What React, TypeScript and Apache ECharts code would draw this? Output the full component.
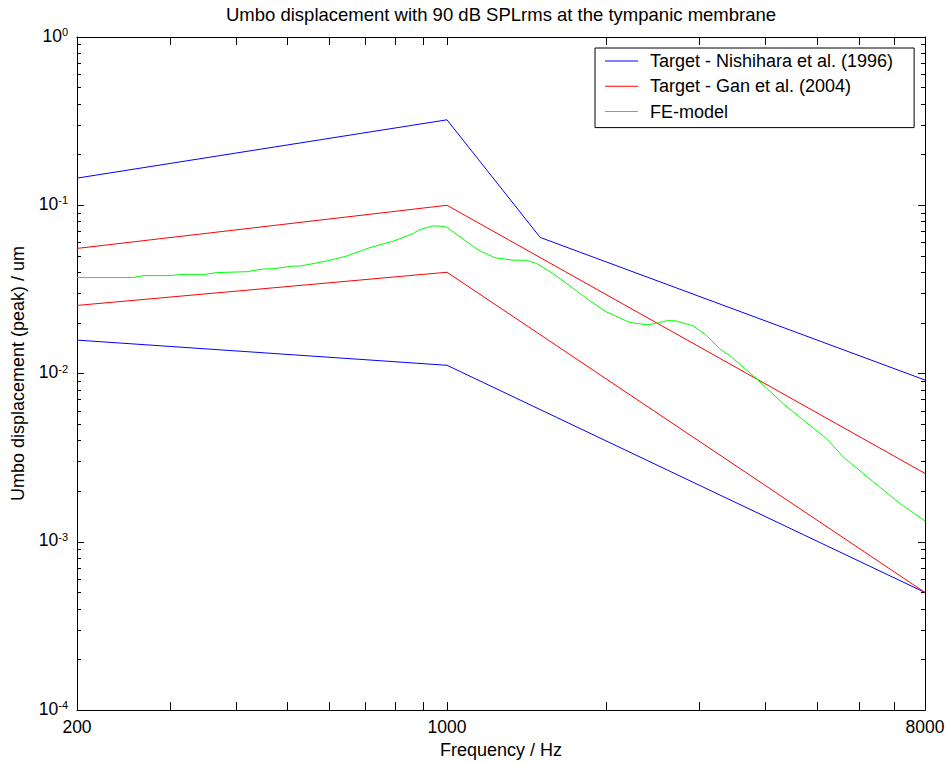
import React, { useEffect, useRef } from "react";
import * as echarts from "echarts";

// ---- data (frequency in Hz, displacement in um) ----
const nishiharaUpperFreq = [200, 1000, 1500, 8000];
const nishiharaUpperVal = [0.145, 0.322, 0.0644, 0.00915];
const nishiharaLowerFreq = [200, 1000, 8000];
const nishiharaLowerVal = [0.0158, 0.0112, 0.0005];
const ganUpperFreq = [200, 1000, 8000];
const ganUpperVal = [0.0554, 0.1, 0.00255];
const ganLowerFreq = [200, 1000, 8000];
const ganLowerVal = [0.0254, 0.04, 0.0005];
const feFreq = [
  200, 255, 267, 300, 313, 346, 367, 418, 450, 470, 512, 528, 601, 646, 715, 792,
  864, 889, 942, 970, 999, 1146, 1232, 1335, 1415, 1478, 1588, 1708, 1863, 2004,
  2218, 2384, 2490, 2602, 2697, 2920, 3095, 3280, 3426, 3820, 4320, 5218, 5608,
  6390, 7175, 8000,
];
const feVal = [
  0.0372, 0.0372, 0.0382, 0.0382, 0.0387, 0.0387, 0.0398, 0.0403, 0.0418, 0.042,
  0.0435, 0.0435, 0.0471, 0.0499, 0.056, 0.0612, 0.068, 0.0718, 0.0755, 0.0751,
  0.0741, 0.0542, 0.0488, 0.0472, 0.0471, 0.045, 0.0392, 0.0331, 0.027, 0.0232,
  0.0201, 0.0195, 0.0199, 0.0206, 0.0206, 0.0192, 0.0168, 0.01397, 0.01275,
  0.0095, 0.0066, 0.00409, 0.00319, 0.00227, 0.00169, 0.00133,
];

// ---- axis ticks / labels ----
const xLabelFreqs = [200, 1000, 8000];
const xTickFreqs = [
  200, 300, 400, 500, 600, 700, 800, 900, 1000, 2000, 3000, 4000, 5000, 6000, 7000, 8000,
];
const yMajorExps = [-4, -3, -2, -1, 0];
const yMinorMantissas = [2, 3, 4, 5, 6, 7, 8, 9];

const NAME_NISHI = "Target - Nishihara et al. (1996)";
const NAME_GAN = "Target - Gan et al. (2004)";
const NAME_FE = "FE-model";
const TITLE = "Umbo displacement with 90 dB SPLrms at the tympanic membrane";

const FONT = "'Liberation Sans', Arial, Helvetica, sans-serif";

const toPts = (f: number[], v: number[]) =>
  f.map((x, i) => [Math.log10(x), Math.log10(v[i])]);

export default function App() {
  const ref = useRef<HTMLDivElement>(null);

  useEffect(() => {
    document.body.style.margin = "0";
    if (!ref.current) return;
    const chart = echarts.init(ref.current, undefined, { renderer: "svg" });

    const xMin = Math.log10(200);
    const xMax = Math.log10(8000);
    const yMinor: number[] = [];
    yMajorExps.slice(0, -1).forEach((e) =>
      yMinorMantissas.forEach((m) => yMinor.push(e + Math.log10(m)))
    );

    const lineSeries = (name: string, f: number[], v: number[], color: string) => ({
      type: "line",
      name,
      data: toPts(f, v),
      showSymbol: false,
      symbol: "none",
      color,
      lineStyle: { color, width: 1 },
      xAxisIndex: 0,
      yAxisIndex: 0,
      z: 3,
    });

    const makeXTick = () => ({
      show: true,
      inside: true,
      length: 8,
      customValues: xTickFreqs.map((f) => Math.log10(f)),
      lineStyle: { color: "#000", width: 1 },
    });

    const makeYTick = (vals: number[], len: number) => ({
      show: true,
      inside: true,
      length: len,
      customValues: vals.slice(),
      lineStyle: { color: "#000", width: 1 },
    });

    const yAxisCommon = () => ({
      type: "value",
      min: -4,
      max: 0,
      splitLine: { show: false },
    });

    chart.setOption({
      animation: false,
      backgroundColor: "#fff",
      textStyle: { fontFamily: FONT },
      graphic: [
        {
          type: "text",
          x: 501,
          y: 5,
          style: {
            text: TITLE,
            fontFamily: FONT,
            fontSize: 18.5,
            fill: "#000",
            align: "center",
            verticalAlign: "top",
          },
        },
      ],
      grid: { left: 77, right: 24, top: 37, bottom: 52, containLabel: false },
      legend: {
        data: [NAME_NISHI, NAME_GAN, NAME_FE],
        orient: "vertical",
        left: 595,
        top: 48,
        padding: [4, 21, 7, 10],
        itemGap: 7.3,
        itemWidth: 33,
        itemHeight: 1,
        icon: "rect",
        backgroundColor: "#fff",
        borderColor: "#000",
        borderWidth: 1,
        borderRadius: 0,
        textStyle: {
          fontFamily: FONT,
          fontSize: 18,
          lineHeight: 16,
          color: "#000",
          padding: [0, 0, 0, 7],
        },
      },
      xAxis: [
        {
          type: "value",
          min: xMin,
          max: xMax,
          position: "bottom",
          splitLine: { show: false },
          axisLine: { show: true, onZero: false, lineStyle: { color: "#000", width: 1 } },
          axisTick: makeXTick(),
          axisLabel: {
            show: true,
            customValues: xLabelFreqs.map((f) => Math.log10(f)),
            formatter: (v: number) => String(Math.round(Math.pow(10, v))),
            fontFamily: FONT,
            fontSize: 17.5,
            color: "#000",
            margin: 8,
          },
          name: "Frequency / Hz",
          nameLocation: "middle",
          nameGap: 29,
          nameTextStyle: { fontFamily: FONT, fontSize: 18, color: "#000" },
        },
        {
          type: "value",
          min: xMin,
          max: xMax,
          position: "top",
          splitLine: { show: false },
          axisLine: { show: true, onZero: false, lineStyle: { color: "#000", width: 1 } },
          axisTick: makeXTick(),
          axisLabel: { show: false },
        },
      ],
      yAxis: [
        {
          ...yAxisCommon(),
          position: "left",
          axisLine: { show: true, onZero: false, lineStyle: { color: "#000", width: 1 } },
          axisTick: makeYTick(yMajorExps, 7),
          axisLabel: {
            show: true,
            customValues: yMajorExps.slice(),
            margin: 9,
            padding: [0, 0, 3, 0],
            formatter: (v: number) => `{b|10}{s|${String(Math.round(v) + 0)}}`,
            rich: {
              b: {
                fontFamily: FONT,
                fontSize: 17.5,
                lineHeight: 18,
                color: "#000",
                verticalAlign: "bottom",
              },
              s: {
                fontFamily: FONT,
                fontSize: 11,
                lineHeight: 11,
                color: "#000",
                verticalAlign: "top",
                padding: [0, 0, 10.5, 0],
              },
            },
          },
          name: "Umbo displacement (peak) / um",
          nameLocation: "middle",
          nameGap: 50,
          nameTextStyle: { fontFamily: FONT, fontSize: 18, color: "#000" },
        },
        {
          ...yAxisCommon(),
          position: "left",
          axisLine: { show: false, onZero: false },
          axisTick: makeYTick(yMinor, 4),
          axisLabel: { show: false },
        },
        {
          ...yAxisCommon(),
          position: "right",
          axisLine: { show: true, onZero: false, lineStyle: { color: "#000", width: 1 } },
          axisTick: makeYTick(yMajorExps, 7),
          axisLabel: { show: false },
        },
        {
          ...yAxisCommon(),
          position: "right",
          axisLine: { show: false, onZero: false },
          axisTick: makeYTick(yMinor, 4),
          axisLabel: { show: false },
        },
      ],
      series: [
        lineSeries(NAME_NISHI, nishiharaUpperFreq, nishiharaUpperVal, "#0000ff"),
        lineSeries(NAME_NISHI, nishiharaLowerFreq, nishiharaLowerVal, "#0000ff"),
        lineSeries(NAME_GAN, ganUpperFreq, ganUpperVal, "#ff0000"),
        lineSeries(NAME_GAN, ganLowerFreq, ganLowerVal, "#ff0000"),
        lineSeries(NAME_FE, feFreq, feVal, "#00ff00"),
      ],
    });

    return () => chart.dispose();
  }, []);

  return <div ref={ref} style={{ width: 949, height: 764 }} />;
}
